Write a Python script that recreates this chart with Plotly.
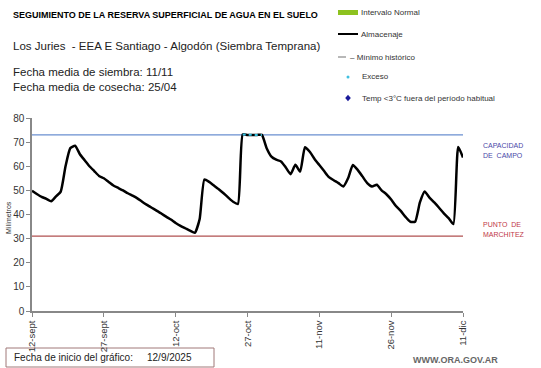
import plotly.graph_objects as go

# ---------------- data ----------------
days = list(range(0, 91))
almacenaje = [
    49.8, 48.5, 47.3, 46.5, 45.5, 47.5, 49.5, 60.0, 67.5, 68.5,
    65.0, 62.5, 60.0, 58.0, 56.0, 55.0, 53.5, 52.0, 51.0, 50.0,
    48.8, 47.8, 46.7, 45.3, 44.0, 42.8, 41.6, 40.4, 39.1, 37.9,
    36.5, 35.3, 34.3, 33.3, 32.4, 38.0, 54.5, 53.5, 52.0, 50.5,
    48.8, 47.0, 45.3, 44.4, 73.2, 73.0, 73.0, 73.0, 73.0, 67.5,
    64.0, 62.7, 62.0, 59.5, 56.7, 60.6, 57.8, 67.9, 66.0, 63.0,
    60.5, 58.0, 55.5, 54.2, 53.0, 51.6, 55.0, 60.5, 58.5, 55.8,
    53.0, 51.6, 52.3, 50.0, 48.4, 46.2, 43.5, 41.5, 39.0, 37.0,
    37.0, 45.0, 49.5, 47.0, 45.0, 42.8, 40.5, 38.5, 36.0, 68.0,
    63.6,
]
exceso_days = [44, 45, 46, 47, 48]
exceso_vals = [73.2, 73.0, 73.0, 73.0, 73.0]
capacidad_campo = 73
punto_marchitez = 31
tick_days = [0, 15, 30, 45, 60, 75, 90]
tick_labels = ["12-sept", "27-sept", "12-oct", "27-oct", "11-nov", "26-nov", "11-dic"]

# ---------------- layout geometry ----------------
W, H = 541, 368
L, R, T, B = 32, 78, 118, 57
PW, PH = W - L - R, H - T - B


def px(x):
    return (x - L) / PW


def py(y):
    return (H - B - y) / PH


fig = go.Figure()

fig.add_trace(go.Scatter(x=days, y=almacenaje, mode="lines",
                         line=dict(color="black", width=2.5, shape="spline", smoothing=0.5),
                         showlegend=False, hoverinfo="skip"))
fig.add_trace(go.Scatter(x=exceso_days, y=exceso_vals, mode="lines",
                         line=dict(color="#33c0e0", width=2, dash="dot"),
                         showlegend=False, hoverinfo="skip"))

# diamond path for legend marker
dx, dy = 2.8 / PW, 3.2 / PH
cx, cy = px(348), py(98)
diamond = "M %f %f L %f %f L %f %f L %f %f Z" % (cx, cy + dy, cx + dx, cy, cx, cy - dy, cx - dx, cy)

shapes = [
    dict(type="line", xref="paper", yref="y", x0=0, x1=1, y0=capacidad_campo, y1=capacidad_campo,
         line=dict(color="#6a8fd0", width=1.2), layer="below"),
    dict(type="line", xref="paper", yref="y", x0=0, x1=1, y0=punto_marchitez, y1=punto_marchitez,
         line=dict(color="#b05050", width=1.2), layer="below"),
    # legend symbols
    dict(type="rect", xref="paper", yref="paper", x0=px(338), x1=px(358), y0=py(15), y1=py(10),
         fillcolor="#8dc21f", line=dict(width=0)),
    dict(type="line", xref="paper", yref="paper", x0=px(338), x1=px(358), y0=py(34), y1=py(34),
         line=dict(color="black", width=2)),
    dict(type="line", xref="paper", yref="paper", x0=px(338), x1=px(346), y0=py(57), y1=py(57),
         line=dict(color="#a0a0a0", width=1.5)),
    dict(type="circle", xref="paper", yref="paper", x0=px(346.5), x1=px(349.5), y0=py(78.5), y1=py(75.5),
         fillcolor="#40c0e0", line=dict(width=0)),
    dict(type="path", xref="paper", yref="paper", path=diamond, fillcolor="#1a1a9a", line=dict(width=0)),
    # date box
    dict(type="rect", xref="paper", yref="paper", x0=px(6), x1=px(214), y0=py(367), y1=py(348),
         fillcolor="white", line=dict(color="#a07878", width=1), layer="below"),
]

fs = "Liberation Sans, Arial, sans-serif"
ann = []


def text(x, y, s, size, color="black", anchor="left", bold=False):
    ann.append(dict(xref="paper", yref="paper", x=px(x), y=py(y), text=("<b>%s</b>" % s) if bold else s,
                    showarrow=False, xanchor=anchor, yanchor="middle",
                    font=dict(family=fs, size=size, color=color)))


text(11, 15, "SEGUIMIENTO DE LA RESERVA SUPERFICIAL DE AGUA EN EL SUELO", 9, bold=True)
text(11, 46, "Los Juries  - EEA E Santiago - Algodón (Siembra Temprana)", 11.5, color="#222")
text(11, 72, "Fecha media de siembra: 11/11", 11.5, color="#222")
text(11, 87, "Fecha media de cosecha: 25/04", 11.5, color="#222")
text(359, 12, "Intervalo Normal", 8, color="#333")
text(359, 34, "Almacenaje", 8, color="#333")
text(348, 57, "– Mínimo histórico", 8, color="#333")
text(360, 77, "Exceso", 8, color="#333")
text(360, 98, "Temp <3°C fuera del período habitual", 8, color="#333")
text(481, 145, "CAPACIDAD", 7, color="#4a48a8")
text(481, 155, "DE  CAMPO", 7, color="#4a48a8")
text(481, 224, "PUNTO  DE", 7, color="#c03848")
text(481, 234, "MARCHITEZ", 7, color="#c03848")
text(12, 357, "Fecha de inicio del gráfico:", 10, color="#222")
text(145, 357, "12/9/2025", 10, color="#222")
text(500, 360, "WWW.ORA.GOV.AR", 9, color="#666", anchor="right", bold=True)
ann.append(dict(xref="paper", yref="paper", x=px(8), y=py(218), text="Milímetros", textangle=-90,
                showarrow=False, xanchor="center", yanchor="middle", font=dict(family=fs, size=7, color="#333")))

fig.update_layout(
    width=W, height=H, margin=dict(l=L, r=R, t=T, b=B, autoexpand=False),
    plot_bgcolor="white", paper_bgcolor="white",
    shapes=shapes, annotations=ann,
    font=dict(family=fs, color="#333"),
    xaxis=dict(range=[0, 90], tickmode="array", tickvals=tick_days, ticktext=tick_labels,
               tickangle=-90, showgrid=False, zeroline=False, showline=True, linecolor="#888",
               linewidth=1.5, ticks="outside", ticklen=4, tickcolor="#888",
               tickfont=dict(size=9.5, color="#333")),
    yaxis=dict(range=[0, 80], dtick=10, showgrid=False, zeroline=False, showline=True,
               linecolor="#888", linewidth=1.5, ticks="outside", ticklen=4, tickcolor="#888",
               tickfont=dict(size=10, color="#333")),
)

fig.write_html("out.html", config={"displayModeBar": False},
               post_script="document.body.style.margin='0px';document.body.style.overflow='hidden';")
